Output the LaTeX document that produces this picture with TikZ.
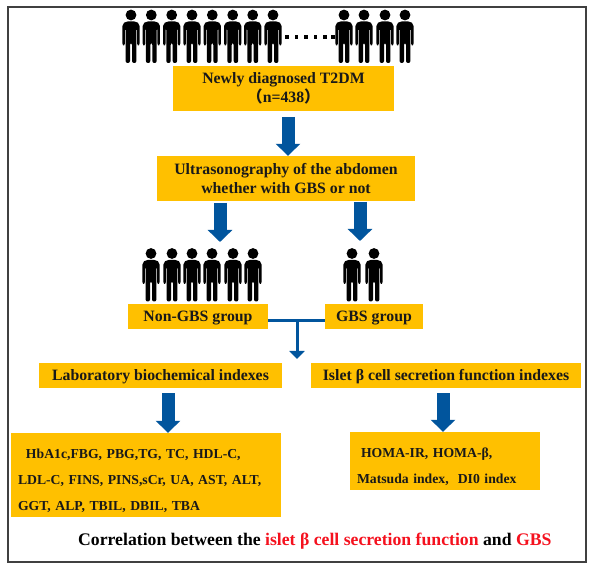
\documentclass[tikz,border=0pt]{standalone}
\usepackage{fontspec}
\setmainfont{Liberation Serif}
\newfontfamily\cjk{Noto Sans CJK SC}
\usetikzlibrary{arrows.meta}
\definecolor{boxgold}{HTML}{FFC000}
\definecolor{arrowblue}{HTML}{01559D}
\definecolor{redtxt}{HTML}{F5111E}
\tikzset{
  x=1pt,y=-1pt,
  goldbox/.style={fill=boxgold,draw=none,inner sep=0pt,align=center,font=\fontsize{15.8}{20}\selectfont\bfseries,text=black!90},
  onelinebox/.style={goldbox,text height=13pt,text depth=3pt},
  listbox/.style={fill=boxgold,draw=none,inner sep=0pt,align=left,font=\fontsize{13.7}{26}\selectfont\bfseries,text=black!90},
  bigarrow/.style={draw=arrowblue,line width=13pt,-{Triangle[width=24pt,length=12pt,fill=arrowblue]}},
  smallarrow/.style={draw=arrowblue,line width=3pt,-{Triangle[width=15pt,length=8pt,fill=arrowblue]}},
  joinline/.style={draw=arrowblue,line width=3pt},
  person/.pic={
    \fill[black] (0,0) circle[radius=5.4];
    \fill[black,rounded corners=2pt] (-8.6,30.5) -- (-8.6,9) -- (-5,6.4) -- (5,6.4) -- (8.6,9) -- (8.6,30.5) -- (6.1,30.5) -- (6.1,13) -- (5.4,13) -- (5.4,48) -- (1,48) -- (1,28) -- (-1,28) -- (-1,48) -- (-5.4,48) -- (-5.4,13) -- (-6.1,13) -- (-6.1,30.5) -- cycle;
  }
}
\begin{document}
\begin{tikzpicture}
\useasboundingbox (0,0) rectangle (590,567);
\fill[white] (0,0) rectangle (590,567);
\draw[black!75,line width=1.6pt] (8,7) rectangle (586,562);
% top row of people
\foreach \px in {131,151.3,171.7,192,212.3,232.7,252.7,273,344,364,385,405}
  \pic at (\px,15) {person};
\foreach \px in {287,296.5,306,315.5,325,333}
  \fill[black] (\px-1.8,35) rectangle (\px+1.8,39);
% lower people
\foreach \px in {151,172,192,212,233,253,352,374}
  \pic at (\px,253.5) {person};
% boxes
\node[goldbox,minimum width=221pt,minimum height=45pt] (newt) at (283.5,88.5) {Newly diagnosed T2DM\\[-1pt]{\cjk（}n=438{\cjk）}};
\node[goldbox,minimum width=258pt,minimum height=45pt] (ultra) at (286,178.5) {Ultrasonography of the abdomen\\[-1pt]whether with GBS or not};
\node[onelinebox,minimum width=140pt,minimum height=25pt] (nongbs) at (198,316.5) {Non-GBS group};
\node[onelinebox,minimum width=98pt,minimum height=25pt] (gbs) at (374,316.5) {GBS group};
\node[onelinebox,minimum width=243pt,minimum height=25pt] (lab) at (160.5,375.5) {Laboratory biochemical indexes};
\node[onelinebox,minimum width=270pt,minimum height=25pt] (islet) at (446,375.5) {Islet β cell secretion function indexes};
\node[listbox,minimum height=84pt,text width=256pt,inner xsep=7pt] (labvals) at (146,475) {\rule{0pt}{21pt}\hspace*{8pt}HbA1c,FBG, PBG,TG, TC, HDL-C,\\LDL-C, FINS, PINS,sCr, UA, AST, ALT,\\GGT, ALP, TBIL, DBIL, TBA};
\node[listbox,minimum height=58pt,text width=176pt,inner xsep=7pt] (isletvals) at (445,461) {\rule{0pt}{21pt}\hspace*{4pt}HOMA-IR, HOMA-β,\\Matsuda index,\ \ DI0 index};
\node[font=\fontsize{17.7}{20}\selectfont\bfseries,inner sep=0pt,anchor=west] (corr) at (78,541) {Correlation between the {\color{redtxt}islet β cell secretion function} and {\color{redtxt}GBS}};
% connectors
\coordinate (a1) at (288,117);
\coordinate (a2) at (220,203);
\coordinate (a3) at (360,202);
\coordinate (t2) at (220,242);
\coordinate (t3) at (360,241);
\coordinate (a4) at (168,393);
\coordinate (a5) at (443,393);
\coordinate (stem) at (297,321);
\coordinate (stemend) at (297,359);
\draw[bigarrow] (a1) -- (a1 |- ultra.north);
\draw[bigarrow] (a2) -- (t2);
\draw[bigarrow] (a3) -- (t3);
\draw[bigarrow] (a4) -- (a4 |- labvals.north);
\draw[bigarrow] (a5) -- (a5 |- isletvals.north);
\draw[joinline] (nongbs.east |- stem) -- (gbs.west |- stem);
\draw[smallarrow] (stem) -- (stemend);
\end{tikzpicture}
\end{document}
